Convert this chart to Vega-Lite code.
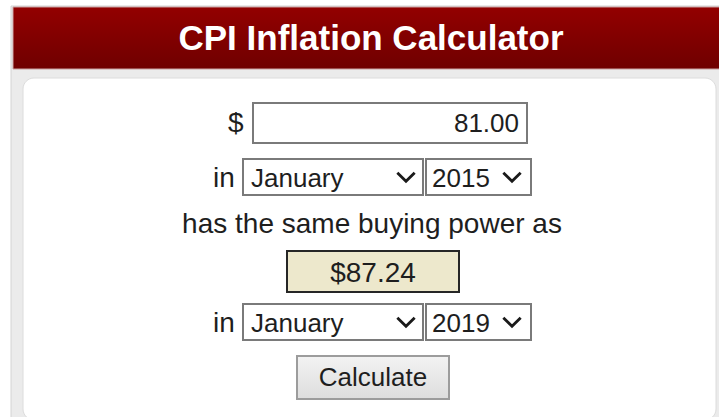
{
  "$schema": "https://vega.github.io/schema/vega-lite/v6.json",
  "width": 719,
  "height": 417,
  "autosize": "none",
  "padding": 0,
  "background": "white",
  "config": {"view": {"stroke": null}, "font": "Liberation Sans"},
  "datasets": {
    "boxes": [
      {"part": "outer", "x": 11, "x2": 722, "y": 6, "y2": 440},
      {"part": "header", "x": 13, "x2": 722, "y": 7, "y2": 69},
      {"part": "card", "x": 23, "x2": 716, "y": 78, "y2": 420},
      {"part": "field", "x": 253, "x2": 527, "y": 103, "y2": 143},
      {"part": "field", "x": 243, "x2": 423, "y": 159, "y2": 195},
      {"part": "field", "x": 426, "x2": 531, "y": 159, "y2": 195},
      {"part": "field", "x": 243, "x2": 423, "y": 304, "y2": 340},
      {"part": "field", "x": 426, "x2": 531, "y": 304, "y2": 340},
      {"part": "result", "x": 287, "x2": 459, "y": 251, "y2": 292},
      {"part": "button", "x": 297, "x2": 449, "y": 356, "y2": 399}
    ],
    "chevrons": [
      {"x": 406, "y": 177},
      {"x": 512, "y": 177},
      {"x": 406, "y": 322},
      {"x": 512, "y": 322}
    ],
    "texts": [
      {"role": "title", "label": "CPI Inflation Calculator", "x": 371, "y": 50},
      {"role": "label", "label": "$", "x": 228, "y": 132},
      {"role": "label", "label": "in", "x": 213, "y": 187},
      {"role": "label", "label": "in", "x": 213, "y": 332},
      {"role": "control", "label": "January", "x": 251, "y": 187},
      {"role": "control", "label": "2015", "x": 432, "y": 187},
      {"role": "control", "label": "January", "x": 251, "y": 332},
      {"role": "control", "label": "2019", "x": 432, "y": 332},
      {"role": "amount", "label": "81.00", "x": 519, "y": 132},
      {"role": "center", "label": "has the same buying power as", "x": 372, "y": 233},
      {"role": "result", "label": "$87.24", "x": 373, "y": 282},
      {"role": "button", "label": "Calculate", "x": 373, "y": 386}
    ]
  },
  "encoding": {
    "x": {"field": "x", "type": "quantitative", "scale": {"domain": [0, 719], "nice": false, "zero": false}, "axis": null},
    "y": {"field": "y", "type": "quantitative", "scale": {"domain": [0, 417], "nice": false, "zero": false, "reverse": true}, "axis": null}
  },
  "layer": [
    {
      "data": {"name": "boxes"},
      "transform": [{"filter": "datum.part === 'outer'"}],
      "mark": {"type": "rect", "fill": "#ebebeb", "stroke": "#d4d4d4", "strokeWidth": 1},
      "encoding": {"x2": {"field": "x2"}, "y2": {"field": "y2"}}
    },
    {
      "data": {"name": "boxes"},
      "transform": [{"filter": "datum.part === 'header'"}],
      "mark": {"type": "rect", "stroke": "#c9a0a0", "strokeWidth": 1,
        "fill": {"gradient": "linear", "x1": 0, "y1": 0, "x2": 0, "y2": 1,
          "stops": [{"offset": 0, "color": "#930000"}, {"offset": 1, "color": "#6f0000"}]}},
      "encoding": {"x2": {"field": "x2"}, "y2": {"field": "y2"}}
    },
    {
      "data": {"name": "boxes"},
      "transform": [{"filter": "datum.part === 'card'"}],
      "mark": {"type": "rect", "fill": "white", "stroke": "#dcdcdc", "strokeWidth": 1, "cornerRadius": 11},
      "encoding": {"x2": {"field": "x2"}, "y2": {"field": "y2"}}
    },
    {
      "data": {"name": "boxes"},
      "transform": [{"filter": "datum.part === 'field'"}],
      "mark": {"type": "rect", "fill": "white", "stroke": "#7a7a7a", "strokeWidth": 2},
      "encoding": {"x2": {"field": "x2"}, "y2": {"field": "y2"}}
    },
    {
      "data": {"name": "boxes"},
      "transform": [{"filter": "datum.part === 'result'"}],
      "mark": {"type": "rect", "fill": "#ede8cc", "stroke": "#262626", "strokeWidth": 2},
      "encoding": {"x2": {"field": "x2"}, "y2": {"field": "y2"}}
    },
    {
      "data": {"name": "boxes"},
      "transform": [{"filter": "datum.part === 'button'"}],
      "mark": {"type": "rect", "stroke": "#9c9c9c", "strokeWidth": 2,
        "fill": {"gradient": "linear", "x1": 0, "y1": 0, "x2": 0, "y2": 1,
          "stops": [{"offset": 0, "color": "#f3f3f3"}, {"offset": 1, "color": "#dddddd"}]}},
      "encoding": {"x2": {"field": "x2"}, "y2": {"field": "y2"}}
    },
    {
      "data": {"name": "chevrons"},
      "mark": {"type": "point", "shape": "M-1,-0.5L0,0.5L1,-0.5", "filled": false, "stroke": "#1a1a1a", "strokeWidth": 2.8, "size": 300, "opacity": 1}
    },
    {
      "data": {"name": "texts"},
      "transform": [{"filter": "datum.role === 'title'"}],
      "mark": {"type": "text", "align": "center", "baseline": "alphabetic", "fontSize": 35, "fontWeight": "bold", "fill": "white", "font": "Liberation Sans"},
      "encoding": {"text": {"field": "label"}}
    },
    {
      "data": {"name": "texts"},
      "transform": [{"filter": "datum.role === 'label'"}],
      "mark": {"type": "text", "align": "left", "baseline": "alphabetic", "fontSize": 28, "fill": "#1e1e1e", "font": "Liberation Sans"},
      "encoding": {"text": {"field": "label"}}
    },
    {
      "data": {"name": "texts"},
      "transform": [{"filter": "datum.role === 'control'"}],
      "mark": {"type": "text", "align": "left", "baseline": "alphabetic", "fontSize": 26, "fill": "#1e1e1e", "font": "Liberation Sans"},
      "encoding": {"text": {"field": "label"}}
    },
    {
      "data": {"name": "texts"},
      "transform": [{"filter": "datum.role === 'amount'"}],
      "mark": {"type": "text", "align": "right", "baseline": "alphabetic", "fontSize": 26, "fill": "#1e1e1e", "font": "Liberation Sans"},
      "encoding": {"text": {"field": "label"}}
    },
    {
      "data": {"name": "texts"},
      "transform": [{"filter": "datum.role === 'center' || datum.role === 'result'"}],
      "mark": {"type": "text", "align": "center", "baseline": "alphabetic", "fontSize": 28, "fill": "#1e1e1e", "font": "Liberation Sans"},
      "encoding": {"text": {"field": "label"}}
    },
    {
      "data": {"name": "texts"},
      "transform": [{"filter": "datum.role === 'button'"}],
      "mark": {"type": "text", "align": "center", "baseline": "alphabetic", "fontSize": 26, "fill": "#1e1e1e", "font": "Liberation Sans"},
      "encoding": {"text": {"field": "label"}}
    }
  ]
}
